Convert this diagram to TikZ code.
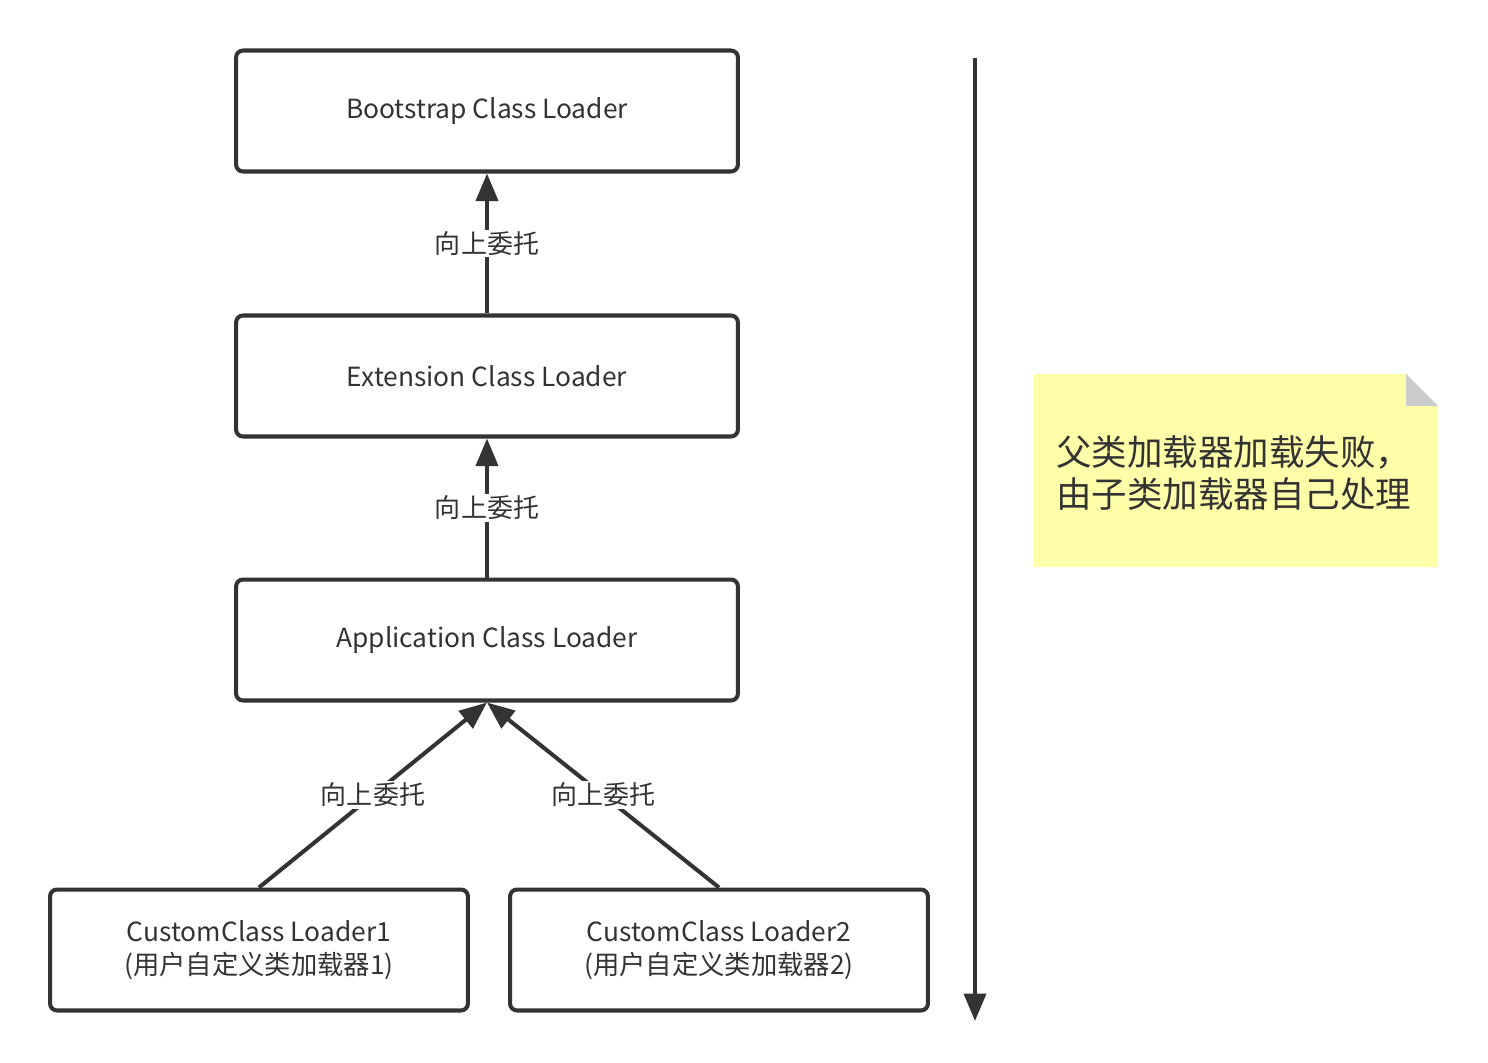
\documentclass[tikz,border=0pt]{standalone}
\usepackage{fontspec}
\setmainfont{Noto Sans CJK SC}
\usetikzlibrary{positioning,arrows.meta}
\definecolor{linegray}{HTML}{333333}
\definecolor{noteyellow}{HTML}{FFFFAA}
\definecolor{foldgray}{HTML}{CCCCCC}

\begin{document}
\begin{tikzpicture}[
  x=0.02cm, y=-0.02cm,
  loader/.style={draw=linegray, line width=2.3pt, rounded corners=4pt,
                 minimum width=10.04cm, minimum height=2.42cm, align=center,
                 font=\fontsize{15}{19}\selectfont, text=linegray},
  custom/.style={loader, minimum width=8.36cm},
  ar/.style={draw=linegray, line width=2.3pt, -{Triangle[length=5.5mm, width=4.4mm]}},
  lbl/.style={fill=white, font=\fontsize{14.8}{17}\selectfont, text=linegray, inner sep=1pt}
]
  \useasboundingbox (0,0) rectangle (1488,1062);

  \node[loader] (boot) at (487,111) {Bootstrap Class Loader};
  \node[loader] (ext) at (487,376) {Extension Class Loader};
  \node[loader] (app) at (487,640) {Application Class Loader};
  \node[custom] (cus1) at (259,950) {CustomClass Loader1\\(用户自定义类加载器1)};
  \node[custom] (cus2) at (719,950) {CustomClass Loader2\\(用户自定义类加载器2)};

  \draw[ar] (ext.north) -- node[lbl] {向上委托} (boot.south);
  \draw[ar] (app.north) -- node[lbl] {向上委托} (ext.south);
  \draw[ar] (cus1.north) -- node[lbl] {向上委托} (app.south);
  \draw[ar] (cus2.north) -- node[lbl] {向上委托} (app.south);

  % order of loading
  \coordinate (top) at (975,58);
  \coordinate (bottom) at (975,1021);
  \draw[ar] (top) -- (bottom);

  % sticky note
  \fill[noteyellow] (1034,374) -- (1406,374) -- (1438,406) -- (1438,567) -- (1034,567) -- cycle;
  \fill[foldgray] (1406,374) -- (1406,406) -- (1438,406) -- cycle;
  \node[align=left, anchor=west, text=linegray, font=\fontsize{20.2}{24}\selectfont] (note) at (1050,473)
    {父类加载器加载失败，\\由子类加载器自己处理};
\end{tikzpicture}
\end{document}
